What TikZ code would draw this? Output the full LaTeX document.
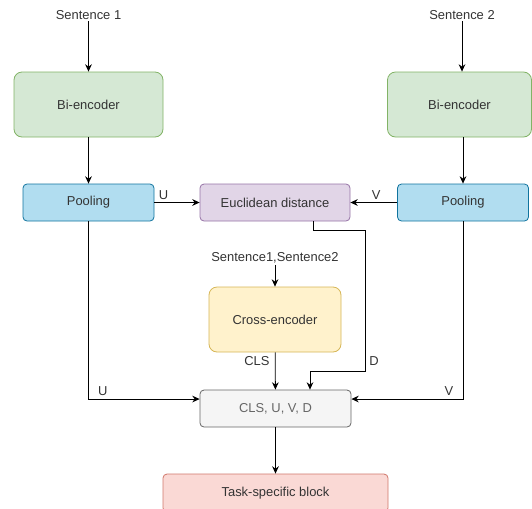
\documentclass[tikz,border=0pt]{standalone}
\usepackage{fontspec}
\setmainfont{Liberation Sans}
\usetikzlibrary{arrows.meta}
\definecolor{encgreen}{HTML}{D5E8D4}
\definecolor{encgreenline}{HTML}{82B366}
\definecolor{poolblue}{HTML}{B1DDF0}
\definecolor{poolblueline}{HTML}{10739E}
\definecolor{distpurple}{HTML}{E1D5E7}
\definecolor{distpurpleline}{HTML}{9673A6}
\definecolor{crossyellow}{HTML}{FFF2CC}
\definecolor{crossyellowline}{HTML}{D6B656}
\definecolor{catgrey}{HTML}{F5F5F5}
\definecolor{catgreyline}{HTML}{666666}
\definecolor{taskred}{HTML}{FAD9D5}
\definecolor{taskredline}{HTML}{D0776B}
\definecolor{txtgrey}{HTML}{333333}

\begin{document}
\begin{tikzpicture}[x=0.75pt,y=-0.75pt,
    font=\fontsize{9.7}{11}\selectfont,
    txt/.style={text=txtgrey, inner sep=1pt},
    lbl/.style={text=txtgrey, inner sep=2pt},
    box/.style n args={2}{draw, line width=0.6pt, text=txtgrey,
        minimum width=#1*0.75pt, minimum height=#2*0.75pt, inner sep=0pt},
    bienc/.style={box={149}{65}, rounded corners=6pt, fill=encgreen, draw=encgreenline},
    pool/.style={box={131}{37}, rounded corners=3pt, fill=poolblue, draw=poolblueline},
    dist/.style={box={150}{37}, rounded corners=3pt, fill=distpurple, draw=distpurpleline},
    cross/.style={box={132}{65}, rounded corners=6pt, fill=crossyellow, draw=crossyellowline},
    concat/.style={box={151}{37}, rounded corners=3pt, fill=catgrey, draw=catgreyline, text=catgreyline},
    task/.style={box={225}{38}, rounded corners=3pt, fill=taskred, draw=taskredline},
    conn/.style={-{Stealth[length=5.5pt,width=5pt]}, line width=0.6pt}]

    % Page size, the last box runs off the bottom
    \useasboundingbox (0,0) rectangle (532,508);
    \clip (0,0) rectangle (532,508);

    % Inputs and bi-encoders
    \node[txt] (s1) at (88.5,15) {Sentence 1};
    \node[txt] (s2) at (462,15) {Sentence 2};
    \node[bienc] (bi1) at (88.5,104.5) {Bi-encoder};
    \node[bienc, minimum width=144*0.75pt] (bi2) at (459.5,104.5) {Bi-encoder};

    % Pooling and distance
    \node[pool] (pool1) at (88.5,202.5) {Pooling};
    \node[pool] (pool2) at (463,202.5) {Pooling};
    \node[dist] (eucl) at (275,202.5) {Euclidean distance};

    % Cross-encoder branch
    \node[txt] (pair) at (275,258) {Sentence1,Sentence2};
    \node[cross] (xenc) at (275,319.5) {Cross-encoder};

    % Concatenation and head
    \node[concat] (cat) at (275.5,408.5) {CLS, U, V, D};
    \node[task] (head) at (275.5,493) {Task-specific block};

    % Corners of the D line
    \coordinate (dA) at (365,230);
    \coordinate (dB) at (365,371);

    % Connectors
    \draw[conn] (s1.south -| bi1) -- (bi1);
    \draw[conn] (s2) -- (s2 |- bi2.north);
    \draw[conn] (bi1) -- (pool1);
    \draw[conn] (bi2.south -| pool2) -- (pool2);
    \draw[conn] (pool1) -- node[lbl, pos=0.2, above] {U} (eucl);
    \draw[conn] (pool2) -- node[lbl, pos=0.45, above] {V} (eucl);
    \draw[conn] (pair) -- (xenc);
    \draw[conn] (xenc) -- node[lbl, pos=0.24, left, xshift=-2pt] {CLS} (cat);
    \draw[conn] ([xshift=38*0.75pt]eucl.south) |- (dA)
        -- node[lbl, pos=0.93, right, xshift=1pt] {D} (dB)
        -| ([xshift=34.5*0.75pt]cat.north);
    \draw[conn] (pool1) |- node[lbl, pos=0.53, above right] {U} ([yshift=7.1pt]cat.west);
    \draw[conn] (pool2) |- node[lbl, pos=0.53, above left] {V} ([yshift=7.1pt]cat.east);
    \draw[conn] (cat) -- (head);
\end{tikzpicture}
\end{document}
